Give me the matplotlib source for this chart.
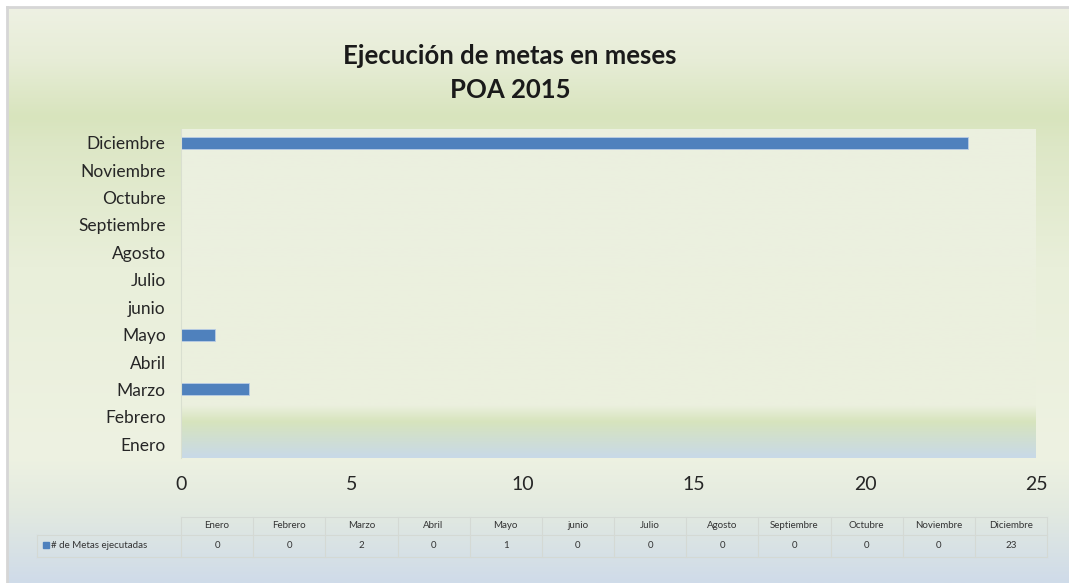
import numpy as np
from matplotlib import pyplot as plt
from matplotlib.colors import to_rgb

meses = ["Enero", "Febrero", "Marzo", "Abril", "Mayo", "junio", "Julio",
         "Agosto", "Septiembre", "Octubre", "Noviembre", "Diciembre"]
metas = [0, 0, 2, 0, 1, 0, 0, 0, 0, 0, 0, 23]
serie = "# de Metas ejecutadas"
titulo = "Ejecución de metas en meses\nPOA 2015"

W, H = 1069, 583
plt.rcParams['font.family'] = ['Lato', 'DejaVu Sans']
fig = plt.figure(figsize=(W / 100, H / 100), dpi=100)
fig.patch.set_facecolor("white")


def fx(px):
    return px / W


def fy(py):
    return 1 - py / H


def gradiente(stops, n=400):
    # stops: lista de (posicion 0..1 desde arriba, color)
    pos = [s[0] for s in stops]
    cols = np.array([to_rgb(s[1]) for s in stops])
    t = np.linspace(0, 1, n)
    img = np.stack([np.interp(t, pos, cols[:, k]) for k in range(3)], axis=1)
    return img[:, None, :]


# fondo del area del grafico
axFondo = fig.add_axes([fx(7), 0, 1 - fx(7), fy(7)])
axFondo.imshow(gradiente([(0.0, "#eef1e3"), (0.09, "#e7edd7"), (0.19, "#d8e4bd"),
                          (0.24, "#dde7c6"), (0.45, "#e9efda"), (0.78, "#eef2e2"),
                          (0.87, "#e3eae0"), (1.0, "#cfdbe9")]),
               aspect="auto", extent=[0, 1, 0, 1])
axFondo.set_xlim(0, 1)
axFondo.set_ylim(0, 1)
axFondo.set_xticks([])
axFondo.set_yticks([])
for s in ["right", "bottom"]:
    axFondo.spines[s].set_visible(False)
for s in ["left", "top"]:
    axFondo.spines[s].set_color("#d6d6d6")
    axFondo.spines[s].set_linewidth(2)

# fondo del area de trazado
pos = [fx(181), fy(458), fx(1036) - fx(181), fy(129) - fy(458)]
axArea = fig.add_axes(pos)
axArea.imshow(gradiente([(0.0, "#ecf0e0"), (0.84, "#ebf0de"), (0.89, "#d7e4bd"),
                         (1.0, "#c8d9e8")]),
              aspect="auto", extent=[0, 1, 0, 1])
axArea.set_axis_off()

ax = fig.add_axes(pos)
ax.patch.set_alpha(0)
y = np.arange(len(meses))
ax.barh(y, metas, height=0.44, color="#4f81bd", edgecolor="#b9cde5", linewidth=0.6)
ax.set_xlim(0, 25)
ax.set_ylim(-0.5, len(meses) - 0.5)
ax.set_xticks([0, 5, 10, 15, 20, 25])
ax.set_yticks(y)
ax.set_yticklabels(meses)
ax.tick_params(axis="y", length=0, pad=11, labelsize=12.5, labelcolor="#262626")
ax.tick_params(axis="x", length=0, pad=13, labelsize=14, labelcolor="#262626")
for s in ax.spines.values():
    s.set_visible(False)
ax.spines["left"].set_visible(True)
ax.spines["left"].set_color("#d9dfd0")

fig.text(fx(510), fy(73), titulo, ha="center", va="center", fontsize=18.5,
         fontweight="bold", color="#1a1a1a", linespacing=1.55)

# tabla de datos
x0, x1, x2 = 37, 181, 1047
yTop, yMid, yBot = 517, 535, 557
axT = fig.add_axes([0, 0, 1, 1])
axT.set_xlim(0, W)
axT.set_ylim(H, 0)
axT.set_axis_off()
colW = (x2 - x1) / len(meses)
lc = "#d4d9d4"
axT.plot([x1, x2], [yTop, yTop], color=lc, lw=0.8)
axT.plot([x0, x2], [yMid, yMid], color=lc, lw=0.8)
axT.plot([x0, x2], [yBot, yBot], color=lc, lw=0.8)
axT.plot([x0, x0], [yMid, yBot], color=lc, lw=0.8)
for i in range(len(meses) + 1):
    axT.plot([x1 + i * colW] * 2, [yTop, yBot], color=lc, lw=0.8)
for i, (m, v) in enumerate(zip(meses, metas)):
    cx = x1 + (i + 0.5) * colW
    axT.text(cx, (yTop + yMid) / 2, m, ha="center", va="center", fontsize=7, color="#333333")
    axT.text(cx, (yMid + yBot) / 2, str(v), ha="center", va="center", fontsize=7, color="#333333")
axT.add_patch(plt.Rectangle((43, 542), 6, 6, color="#4f81bd"))
axT.text(51, (yMid + yBot) / 2, serie, ha="left", va="center", fontsize=7, color="#333333")

fig.savefig("out.png", dpi=100)
